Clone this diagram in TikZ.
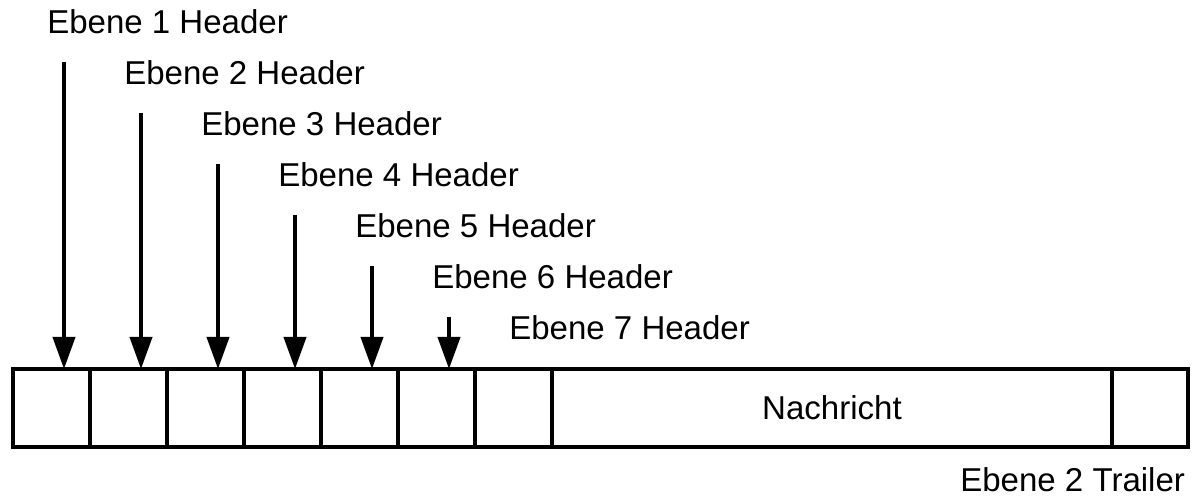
\documentclass[tikz,border=0pt]{standalone}
\usepackage{fontspec}
\setmainfont{Liberation Sans}
\usetikzlibrary{arrows.meta}

\begin{document}
\begin{tikzpicture}[line join=miter, font=\fontsize{23.5}{27}\selectfont,
	cell/.style={draw, line width=2.6pt, minimum width=1.925cm, minimum height=1.95cm, inner sep=0pt, outer sep=0pt, anchor=south west},
	hdr/.style={-{Triangle[width=0.55cm,length=0.8cm]}, line width=2.8pt},
	lbl/.style={inner sep=0pt, anchor=base west}]
	\useasboundingbox (0,0) rectangle (29.8,12.45);
	% Rahmen: sieben Header-Felder, Nachricht, Trailer
	\foreach \i in {1,...,7}
		\node[cell] (c\i) at ({0.325+1.925*(\i-1)},1.275) {};
	\node[cell, minimum width=14cm] (msg) at (13.8,1.275) {Nachricht};
	\node[cell, minimum width=1.9cm] (tr) at (27.8,1.275) {};
	% Header der Ebenen 1-6 mit Pfeilen
	\foreach \i in {1,...,6}{
		\node[lbl] (h\i) at ({1.175+1.925*(\i-1)},{11.6-1.275*(\i-1)}) {Ebene \i{} Header};
		\coordinate (s\i) at ({1.6+1.925*(\i-1)},{10.9-1.275*(\i-1)});
		\draw[hdr] (s\i) -- (s\i |- c\i.north);
	}
	\node[lbl] (h7) at (12.725,3.95) {Ebene 7 Header};
	\node[inner sep=0pt, anchor=base east] (trl) at (29.63,0.15) {Ebene 2 Trailer};
\end{tikzpicture}
\end{document}
